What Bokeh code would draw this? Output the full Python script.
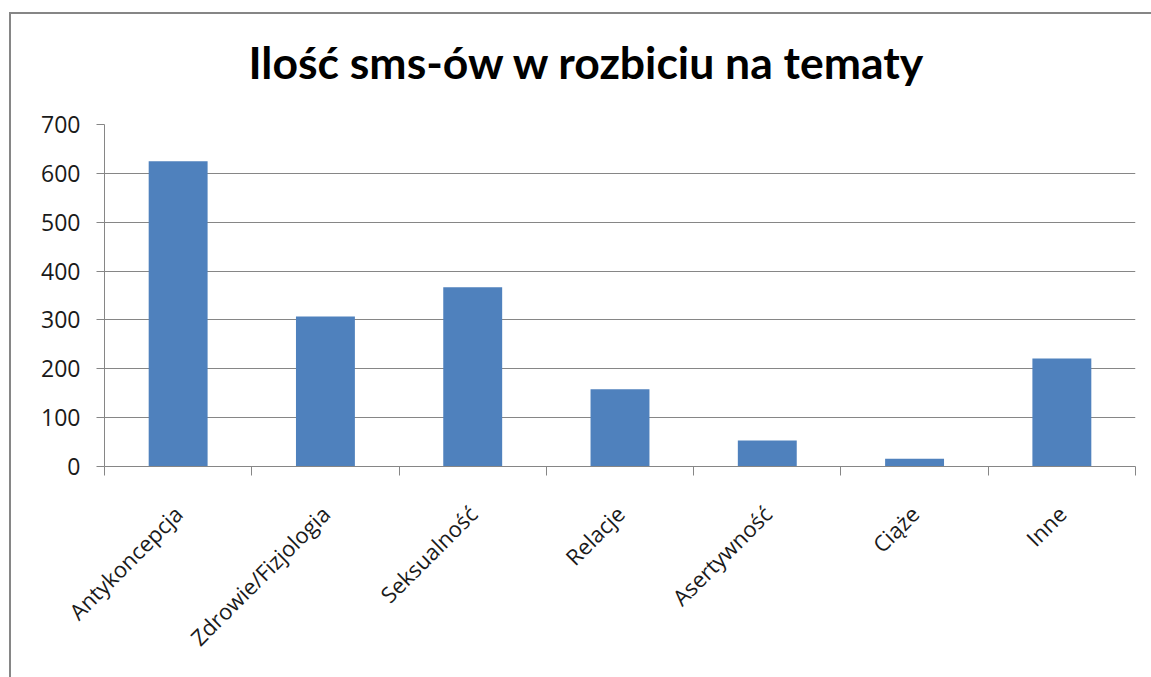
import math
from bokeh.plotting import figure
from bokeh.models import Range1d, FixedTicker, Title
from bokeh.embed import file_html
from bokeh.resources import INLINE

title_text = "Ilość sms-ów w rozbiciu na tematy"
categories = ["Antykoncepcja", "Zdrowie/Fizjologia", "Seksualność", "Relacje",
              "Asertywność", "Ciąże", "Inne"]
values = [625, 307, 367, 158, 53, 16, 221]
y_ticks = [0, 100, 200, 300, 400, 500, 600, 700]

centers = [i + 0.5 for i in range(len(categories))]
bounds = list(range(len(categories) + 1))

GRID = "#868686"
TEXT = "#1a1a1a"

p = figure(output_backend="svg", toolbar_location=None,
           frame_width=1031, frame_height=342,
           min_border_left=117, min_border_right=100,
           min_border_top=134, min_border_bottom=240,
           x_range=Range1d(0, len(categories)), y_range=Range1d(0, 700),
           tools="")
# chart-area frame: only its left and top edges fall inside the window
p.styles = {"margin-left": "-13px", "margin-top": "-10px", "max-width": "none",
            "outline": "2px solid #868686", "outline-offset": "-24px"}

p.vbar(x=centers, top=values, width=0.4, bottom=0,
       fill_color="#4F81BD", line_color=None)

p.outline_line_color = None
p.background_fill_color = "white"
p.border_fill_color = None

# y axis
p.yaxis.ticker = FixedTicker(ticks=y_ticks)
p.yaxis.axis_line_color = GRID
p.yaxis.major_tick_line_color = GRID
p.yaxis.major_tick_out = 8
p.yaxis.major_tick_in = 0
p.yaxis.minor_tick_line_color = None
p.yaxis.major_label_text_font = "Open Sans"
p.yaxis.major_label_text_font_size = "23px"
p.yaxis.major_label_text_color = TEXT
p.yaxis.major_label_standoff = 16

# x axis
p.xaxis.ticker = FixedTicker(ticks=centers, minor_ticks=bounds)
p.xaxis.major_label_overrides = {c: cat for c, cat in zip(centers, categories)}
p.xaxis.major_tick_line_color = None
p.xaxis.minor_tick_line_color = GRID
p.xaxis.minor_tick_out = 9
p.xaxis.minor_tick_in = 0
p.xaxis.axis_line_color = GRID
p.xaxis.major_label_orientation = math.pi / 4
p.xaxis.major_label_text_font = "Open Sans"
p.xaxis.major_label_text_font_size = "22px"
p.xaxis.major_label_text_color = TEXT
p.xaxis.major_label_standoff = 34

p.xgrid.grid_line_color = None
p.ygrid.ticker = FixedTicker(ticks=y_ticks)
p.ygrid.grid_line_color = GRID
p.ygrid.grid_line_width = 1

p.add_layout(Title(text=title_text, align="left", offset=144,
                   text_font="Lato", text_font_size="44.5px", text_font_style="bold",
                   text_color="black", standoff=73), "above")

open("out.html", "w").write(file_html(p, INLINE))
